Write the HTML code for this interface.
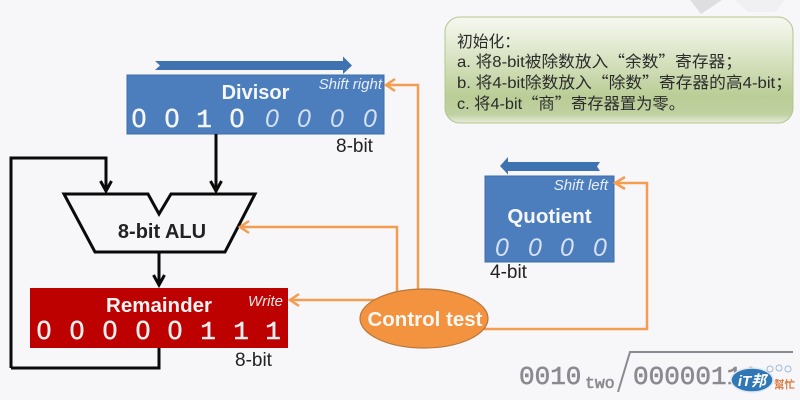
<!DOCTYPE html>
<html><head><meta charset="utf-8"><style>
html,body{margin:0;padding:0;background:#f7f7fa}
svg{display:block}
text{font-family:"Liberation Sans","Noto Sans CJK SC",sans-serif}
.m{font-family:"Liberation Mono",monospace}
.q{font-family:"Noto Sans CJK SC",sans-serif}
.d{stroke-width:.5}
</style></head><body>
<svg width="800" height="400" viewBox="0 0 800 400" xmlns="http://www.w3.org/2000/svg">
<defs>
<linearGradient id="g" x1="0" y1="0" x2="0" y2="1">
<stop offset="0" stop-color="#f6f8ef"/><stop offset=".2" stop-color="#e8eeda"/><stop offset=".75" stop-color="#bacd96"/><stop offset=".92" stop-color="#c0d1a2"/><stop offset="1" stop-color="#e8eedc"/>
</linearGradient>
</defs>
<rect width="800" height="400" fill="#f7f7fa"/>
<path d="M690 0H722L701 14Z" fill="#dedee0"/>
<path d="M735 0H785L775 12H748Z" fill="#f0f0f2"/>

<rect x="445" y="17" width="348" height="106" rx="15" fill="url(#g)" stroke="#b4c48f" stroke-width="1"/>
<g font-size="16" fill="#2b2b2b">
<text x="457" y="47" textLength="63" lengthAdjust="spacingAndGlyphs">初始化<tspan class="q">：</tspan></text>
<text x="457" y="67" textLength="285" lengthAdjust="spacingAndGlyphs">a. 将8-bit被除数放入<tspan class="q">“</tspan>余数<tspan class="q">”</tspan>寄存器<tspan class="q">；</tspan></text>
<text x="457" y="88" textLength="335" lengthAdjust="spacingAndGlyphs">b. 将4-bit除数放入<tspan class="q">“</tspan>除数<tspan class="q">”</tspan>寄存器的高4-bit<tspan class="q">；</tspan></text>
<text x="457" y="109" textLength="228" lengthAdjust="spacingAndGlyphs">c. 将4-bit<tspan class="q">“</tspan>商<tspan class="q">”</tspan>寄存器置为零<tspan class="q">。</tspan></text>
</g>

<path d="M155 61H343V56.500L352 65.500 343 74V70H155L160 65.500Z" fill="#3f72b0"/>
<rect x="127" y="75" width="257" height="59" fill="#4c7dbd" stroke="#3e6da8"/>
<text x="255.500" y="99" font-size="20" font-weight="bold" fill="#f5f7fb" text-anchor="middle">Divisor</text>
<text x="382" y="89" font-size="15" font-style="italic" fill="#e8eef8" text-anchor="end">Shift right</text>
<g font-size="26" text-anchor="middle" fill="#f5f7fb" stroke="#f5f7fb" class="d">
<text x="139" y="127">0</text><text x="172" y="127">0</text><text class="m" x="204" y="127">1</text><text x="237" y="127">0</text>
</g>
<g fill="#d5e0f0" font-style="italic" font-size="25" text-anchor="middle"><text x="272" y="127">0</text><text x="304" y="127">0</text><text x="337" y="127">0</text><text x="370" y="127">0</text></g>
<text x="336" y="152" font-size="19" fill="#222">8-bit</text>

<path d="M216 134V190" stroke="#0a0a0a" stroke-width="3" fill="none"/>
<path d="M11 368V158H106V190" stroke="#0a0a0a" stroke-width="3" fill="none"/>
<path d="M100.500 181 106 191 111.500 181M210.500 181 216 191 221.500 181" stroke="#0a0a0a" stroke-width="3" fill="none"/>
<path d="M64 194H148L159 214 171 194H255L225 252H95Z" fill="none" stroke="#0a0a0a" stroke-width="3"/>
<text x="162" y="238" font-size="20" font-weight="bold" fill="#222" text-anchor="middle">8-bit ALU</text>
<path d="M159 252V284M153.500 275 159 285 164.500 275" stroke="#0a0a0a" stroke-width="3" fill="none"/>

<rect x="30" y="288" width="258" height="60" fill="#bd0000"/>
<text x="159" y="312" font-size="20.500" font-weight="bold" fill="#f7f2f2" text-anchor="middle">Remainder</text>
<text x="283" y="306" font-size="15" font-style="italic" fill="#f4e4e4" text-anchor="end">Write</text>
<g font-size="26" fill="#f5efef" stroke="#f5efef" class="d" text-anchor="middle">
<text x="44" y="339">0</text><text x="77" y="339">0</text><text x="110" y="339">0</text><text x="143" y="339">0</text><text x="175" y="339">0</text><text class="m" x="208" y="339">1</text><text class="m" x="241" y="339">1</text><text class="m" x="273" y="339">1</text>
</g>
<text x="235" y="366" font-size="19" fill="#222">8-bit</text>
<path d="M159 348V368H11" stroke="#0a0a0a" stroke-width="3" fill="none"/>

<path d="M600 162H508V157L500 166 508 174.500V171H600L597 166.500Z" fill="#3f72b0"/>
<rect x="485" y="176" width="129" height="86" fill="#4c7dbd" stroke="#3e6da8"/>
<text x="549.500" y="223" font-size="20.500" font-weight="bold" fill="#f5f7fb" text-anchor="middle">Quotient</text>
<text x="608" y="190" font-size="15" font-style="italic" fill="#e8eef8" text-anchor="end">Shift left</text>
<g font-size="25" font-style="italic" fill="#d5e0f0" text-anchor="middle">
<text x="502" y="256">0</text><text x="535" y="256">0</text><text x="567" y="256">0</text><text x="600" y="256">0</text>
</g>
<text x="490" y="278" font-size="19" fill="#222">4-bit</text>

<g stroke="#f49d50" stroke-width="2.500" fill="none">
<path d="M418 292V85H387M395 79 386 85 395 91"/>
<path d="M397 295V227H241M249 221 240 227 249 233"/>
<path d="M380 300H291M299 294 290 300 299 306"/>
<path d="M480 329H647V183H616M625 177 615 183 625 189"/>
</g>
<ellipse cx="424" cy="318.500" rx="64" ry="29.500" fill="#f3933f" stroke="#b8763a" stroke-width="1.200"/>
<text x="425" y="326" font-size="20.500" font-weight="bold" fill="#fbf7f2" text-anchor="middle">Control test</text>

<g class="m" fill="#8a8a90" stroke="#8a8a90" stroke-width=".6">
<text class="m" x="519" y="384" font-size="26">0010</text>
<text class="m" x="585" y="388" font-size="16.500">two</text>
<text class="m" x="633" y="384" font-size="26">00000111</text>
</g>
<path d="M618 392 630 352H793" stroke="#8a8a90" stroke-width="2" fill="none"/>

<ellipse cx="752" cy="380" rx="21" ry="12" fill="#2f78b5" stroke="#dfe8f2" stroke-width="1.500"/>
<text x="752" y="386" font-size="15" font-weight="bold" font-style="italic" fill="#fff" text-anchor="middle">iT邦</text>
<text x="774" y="388" font-size="10.500" font-weight="bold" fill="#d9773a">幫忙</text>
<g fill="none" stroke="#9db9d6" stroke-width="1"><circle cx="770" cy="369" r="3"/><circle cx="779" cy="368" r="3"/><circle cx="788" cy="369" r="3"/></g>
</svg>
</body></html>
